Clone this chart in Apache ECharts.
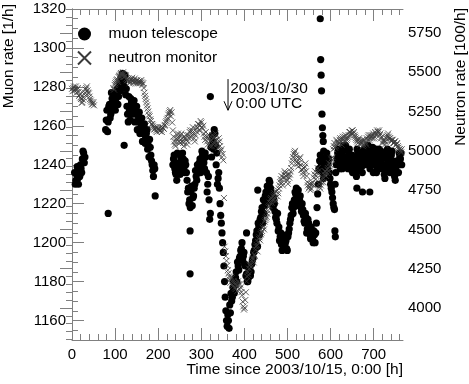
<!DOCTYPE html>
<html>
<head>
<meta charset="utf-8">
<script src="https://cdn.jsdelivr.net/npm/echarts@6/dist/echarts.min.js"></script>
<style>
html, body { margin: 0; padding: 0; background: #fff; }
#chart { width: 469px; height: 384px; }
</style>
</head>
<body>
<div id="chart"></div>
<script>
// rates, one value every 3 h from the start hour;
// the "b" runs sit half way between (start + 1.5 h)
var step = 3;

var muonStart1 = 6;
var muon1 = [1236, 1232, 1239, 1230, 1234, 1238, 1243, 1246, 1244];
var muonStart1b = 7.5;
var muon1b = [1230, 1235, 1233, 1237, 1240, 1236, 1247, 1241];

var muonStart2 = 78;
var muon2 = [1258, 1268, 1262, 1271, 1266, 1274, 1270, 1276, 1272, 1279,
             1275, 1282, 1285, 1287, 1283, 1286, 1279, 1266, 1275, 1263,
             1272, 1268, 1273, 1266, 1270, 1262, 1267, 1259, 1264, 1256,
             1261, 1254, 1258, 1250, 1253, 1245, 1240, 1234, 1238];
var muonStart2b = 79.5;
var muon2b = [1263, 1257, 1270, 1264, 1277, 1268, 1273, 1268, 1277, 1271,
              1280, 1278, 1283, 1285, 1280, 1276, 1270, 1262, 1268, 1274,
              1266, 1270, 1262, 1268, 1258, 1264, 1256, 1261, 1252, 1258,
              1251, 1256, 1248, 1244, 1249, 1242, 1237, 1240];

var muonStart3 = 234;
var muon3 = [1240, 1245, 1236, 1232, 1241, 1238, 1244, 1239, 1243, 1236,
             1240, 1232, 1228, 1222, 1226, 1219, 1224, 1230, 1234, 1240,
             1236, 1243, 1238, 1245, 1241, 1246, 1236, 1230, 1222, 1215,
             1244, 1252, 1258, 1250, 1246, 1233, 1228, 1214, 1205, 1195,
             1180, 1165, 1157, 1160, 1168, 1174, 1172, 1180, 1178, 1185,
             1190, 1186, 1193, 1197, 1191, 1195, 1188, 1184, 1180, 1186,
             1183, 1189, 1192, 1196, 1201, 1206, 1210, 1204, 1213, 1218,
             1222, 1219, 1226, 1229, 1224, 1231, 1226, 1220, 1223, 1216,
             1212, 1215, 1208, 1203, 1199, 1204, 1198, 1200, 1197, 1203,
             1207, 1212, 1218, 1215, 1222, 1225, 1221, 1227, 1222, 1218,
             1220, 1214, 1210, 1213, 1207, 1210, 1204, 1208, 1202, 1206,
             1200, 1210, 1225, 1238, 1245, 1240, 1236, 1242, 1238, 1246,
             1241, 1236, 1230, 1226, 1220, 1217, 1236, 1243, 1248, 1240,
             1245, 1238, 1250, 1244, 1248, 1240, 1246, 1238, 1242, 1236,
             1244, 1240, 1234, 1246, 1240, 1244, 1239, 1245, 1248, 1242,
             1247, 1250, 1244, 1240, 1246, 1236, 1242, 1248, 1238, 1245,
             1240, 1247, 1243, 1238, 1233, 1244, 1248, 1240, 1236, 1245,
             1242, 1238, 1232, 1236, 1240, 1246, 1243, 1240];
var muonStart3b = 235.5;
var muon3b = [1243, 1238, 1235, 1246, 1240, 1235, 1241, 1246, 1238, 1242,
              1236, 1226, 1220, 1218, 1229, 1223, 1228, 1237, 1232, 1238,
              1241, 1236, 1247, 1242, 1238, 1244, 1226, 1234, 1212, 1249,
              1255, 1248, 1256, 1240, 1230, 1236, 1220, 1210, 1200, 1188,
              1172, 1160, 1163, 1156, 1164, 1170, 1177, 1174, 1182, 1180,
              1188, 1192, 1196, 1200, 1193, 1189, 1183, 1180, 1182, 1187,
              1185, 1191, 1195, 1199, 1204, 1198, 1208, 1212, 1216, 1210,
              1215, 1224, 1221, 1227, 1232, 1228, 1223, 1218, 1220, 1213,
              1210, 1206, 1201, 1205, 1196, 1202, 1199, 1201, 1196, 1205,
              1210, 1214, 1220, 1218, 1226, 1228, 1224, 1219, 1224, 1216,
              1217, 1211, 1215, 1205, 1212, 1208, 1202, 1205, 1200, 1204,
              1205, 1218, 1230, 1242, 1237, 1243, 1233, 1240, 1244, 1238,
              1243, 1233, 1228, 1223, 1218, 1230, 1240, 1246, 1243, 1238,
              1242, 1247, 1240, 1250, 1243, 1238, 1248, 1240, 1245, 1239,
              1236, 1242, 1248, 1237, 1242, 1247, 1236, 1243, 1240, 1245,
              1243, 1247, 1238, 1243, 1249, 1240, 1245, 1236, 1243, 1248,
              1242, 1238, 1246, 1235, 1240, 1247, 1242, 1237, 1240, 1247,
              1240, 1234, 1238, 1242, 1236, 1244, 1246];

// single outlying hours and the spike of 2003/10/29
var muonExtra = [[84, 1215], [121, 1250], [193, 1224], [274, 1206], [274, 1184],
                 [321, 1275], [405, 1205], [431, 1227], [576, 1315], [577, 1294],
                 [578, 1286], [579, 1278], [580, 1266], [581, 1259], [582, 1255],
                 [583, 1252], [584, 1247], [610, 1206], [611, 1203], [661, 1228],
                 [674, 1226], [691, 1226]];

var neutronStart1 = 0;
var neutron1 = [5395, 5400, 5385, 5410, 5390, 5375, 5360, 5330, 5310, 5340,
                5370, 5400, 5385, 5365, 5330, 5310, 5300, 5290];
var neutronStart1b = 1.5;
var neutron1b = [5380, 5410, 5395, 5370, 5400, 5350, 5340, 5305, 5325, 5360,
                 5390, 5410, 5370, 5345, 5320, 5295, 5310];

var neutronStart2 = 96;
var neutron2 = [5400, 5420, 5440, 5455, 5470, 5480, 5495, 5490, 5485, 5475,
                5460, 5450, 5445, 5440, 5455, 5445, 5450, 5440, 5445, 5430,
                5445, 5440, 5435, 5430, 5370, 5330, 5290, 5250, 5220, 5190,
                5170, 5150, 5140, 5130, 5150, 5140, 5125, 5135, 5150, 5140,
                5165, 5190, 5210, 5240, 5260, 5245, 5130, 5060, 5030, 5080,
                5110, 5060, 5100, 5080, 5050, 5090, 5070, 5040, 5100, 5120,
                5090, 5130, 5110, 5060, 5140, 5150, 5170, 5160, 5180, 5140,
                5110, 5070, 5090, 5040, 5100, 5060, 5030, 5080, 5050, 5110,
                5040, 5020, 5060, 5000, 4960, 4940, 4390, 4330, 4270, 4220,
                4180, 4200, 4150, 4170, 4130, 4150, 4110, 4150, 4150, 4100,
                4040, 3990, 4050, 4170, 4230, 4250, 4280, 4300, 4310, 4340,
                4370, 4400, 4420, 4450, 4470, 4490, 4520, 4550, 4570, 4600,
                4640, 4670, 4700, 4690, 4720, 4700, 4740, 4710, 4760, 4800,
                4840, 4780, 4850, 4860, 4820, 4790, 4830, 4870, 4920, 4960,
                4990, 4970, 4930, 4900, 4950, 4910, 4880, 4840, 4900, 4870,
                4800, 4760, 4790, 4760, 4800, 4830, 4870, 4840, 4890, 4790,
                4760, 4800, 4830, 4850, 4870, 4860, 4890, 4920, 4910, 4940,
                5010, 5050, 5030, 5060, 5040, 5070, 5060, 5080, 5070, 5090,
                5060, 5080, 5100, 5120, 5110, 5130, 5120, 5090, 5070, 5050,
                5080, 5040, 5060, 5030, 5070, 5050, 5080, 5090, 5070, 5100,
                5080, 5110, 5090, 5110, 5130, 5120, 5100, 5080, 5050, 5070,
                5040, 5080, 5100, 5090, 5080, 5060, 5070, 5050, 5060, 5040,
                5030, 5010, 5000, 5010];
var neutronStart2b = 97.5;
var neutron2b = [5390, 5430, 5450, 5440, 5475, 5490, 5480, 5500, 5470, 5480,
                 5450, 5460, 5430, 5450, 5465, 5435, 5460, 5430, 5450, 5440,
                 5430, 5450, 5420, 5400, 5350, 5310, 5270, 5230, 5200, 5170,
                 5160, 5135, 5150, 5120, 5140, 5130, 5150, 5120, 5145, 5160,
                 5180, 5200, 5230, 5250, 5220, 5180, 5090, 5040, 5060, 5100,
                 5080, 5050, 5110, 5060, 5030, 5080, 5100, 5060, 5080, 5130,
                 5110, 5150, 5080, 5100, 5120, 5170, 5130, 5190, 5150, 5160,
                 5090, 5120, 5060, 5080, 5030, 5070, 5100, 5040, 5090, 5070,
                 5050, 5080, 5030, 5010, 4980, 4700, 4360, 4300, 4240, 4200,
                 4160, 4190, 4140, 4160, 4120, 4140, 4170, 4120, 4130, 4080,
                 4010, 4000, 4100, 4200, 4210, 4270, 4260, 4320, 4290, 4330,
                 4390, 4360, 4440, 4430, 4480, 4510, 4500, 4560, 4580, 4620,
                 4650, 4690, 4670, 4710, 4730, 4680, 4750, 4730, 4780, 4820,
                 4800, 4830, 4870, 4840, 4810, 4850, 4850, 4890, 4940, 4980,
                 5000, 4950, 4920, 4920, 4960, 4880, 4860, 4890, 4920, 4840,
                 4780, 4770, 4750, 4790, 4780, 4850, 4820, 4860, 4870, 4770,
                 4780, 4820, 4800, 4870, 4840, 4880, 4870, 4900, 4950, 4960,
                 5030, 5020, 5070, 5050, 5050, 5080, 5040, 5090, 5060, 5100,
                 5070, 5090, 5120, 5100, 5130, 5110, 5100, 5080, 5060, 5070,
                 5060, 5050, 5070, 5040, 5060, 5040, 5070, 5100, 5080, 5090,
                 5100, 5080, 5120, 5100, 5120, 5130, 5110, 5090, 5060, 5060,
                 5060, 5090, 5110, 5080, 5070, 5070, 5050, 5060, 5040, 5050,
                 5020, 5010, 4990];

var timeTicks = [0, 100, 200, 300, 400, 500, 600, 700];
var muonTicks = [1160, 1180, 1200, 1220, 1240, 1260, 1280, 1300, 1320];
var neutronTicks = [4000, 4250, 4500, 4750, 5000, 5250, 5500, 5750];

var arrowHour = 362;

function toPairs(start, vals) {
  return vals.map(function (v, i) { return [start + step * i, v]; });
}
function minorTicks(from, to, by, major) {
  var out = [];
  for (var v = from; v <= to; v += by) {
    if (major.indexOf(v) < 0) out.push(v);
  }
  return out;
}

var muonData = toPairs(muonStart1, muon1)
  .concat(toPairs(muonStart1b, muon1b))
  .concat(toPairs(muonStart2, muon2))
  .concat(toPairs(muonStart2b, muon2b))
  .concat(toPairs(muonStart3, muon3))
  .concat(toPairs(muonStart3b, muon3b))
  .concat(muonExtra);
var neutronData = toPairs(neutronStart1, neutron1)
  .concat(toPairs(neutronStart1b, neutron1b))
  .concat(toPairs(neutronStart2, neutron2))
  .concat(toPairs(neutronStart2b, neutron2b));

var font = 'Liberation Sans, Arial, sans-serif';
var frame = '#808080';
var plain = function (v) { return String(v); };

function ticks(len, values) {
  return { show: true, inside: true, length: len, customValues: values, lineStyle: { color: frame, width: 1 } };
}
function labels(values, margin) {
  return { show: true, customValues: values, formatter: plain, color: '#000', fontSize: 15, fontFamily: font, margin: margin };
}
function axis(grid, pos, lim, line, tick, label) {
  return {
    type: 'value', gridIndex: grid, position: pos, min: lim[0], max: lim[1],
    splitLine: { show: false },
    axisLine: { show: line, lineStyle: { color: frame, width: 1 } },
    axisTick: tick,
    axisLabel: label || { show: false }
  };
}

var tLim = [0, 768];
var mLim = [1150, 1320];
var nLim = [3796, 5903];
var tMinor = minorTicks(0, 760, 20, timeTicks);

var chart = echarts.init(document.getElementById('chart'), null, { renderer: 'canvas' });
chart.setOption({
  animation: false,
  backgroundColor: '#fff',
  grid: [
    { left: 72, right: 66, top: 9, bottom: 44 },
    { left: 72, right: 66, top: 9, bottom: 44 }
  ],
  xAxis: [
    axis(0, 'bottom', tLim, true, ticks(12, timeTicks), labels(timeTicks, 7)),
    axis(0, 'top', tLim, true, ticks(12, timeTicks)),
    axis(1, 'bottom', tLim, false, ticks(6, tMinor)),
    axis(1, 'top', tLim, false, ticks(6, tMinor))
  ],
  yAxis: [
    axis(0, 'left', mLim, true, ticks(12, muonTicks), labels(muonTicks, 6)),
    axis(0, 'right', nLim, true, ticks(12, neutronTicks), labels(neutronTicks, 5)),
    axis(1, 'left', mLim, false, ticks(6, minorTicks(1150, 1320, 5, muonTicks))),
    axis(1, 'right', nLim, false, ticks(6, minorTicks(3800, 5900, 50, neutronTicks)))
  ],
  legend: {
    orient: 'vertical',
    left: 75.5, top: 26, padding: 0,
    itemWidth: 38, itemHeight: 13,
    itemGap: 7,
    symbolKeepAspect: true,
    textStyle: { fontSize: 15.5, color: '#000', fontFamily: font },
    data: ['muon telescope', 'neutron monitor']
  },
  series: [
    {
      name: 'muon telescope',
      type: 'scatter',
      xAxisIndex: 0, yAxisIndex: 0,
      symbol: 'circle',
      symbolSize: 7.2,
      itemStyle: { color: '#000', opacity: 1 },
      data: muonData
    },
    {
      name: 'neutron monitor',
      type: 'scatter',
      xAxisIndex: 0, yAxisIndex: 1,
      symbol: 'path://M0 0L10 10M10 0L0 10',
      symbolKeepAspect: true,
      symbolSize: 6,
      itemStyle: { color: 'none', borderColor: '#3a3a3a', borderWidth: 0.8, opacity: 1 },
      data: neutronData
    }
  ]
});

var aTop = chart.convertToPixel({ xAxisIndex: 0, yAxisIndex: 0 }, [arrowHour, 1284]);
var aBot = chart.convertToPixel({ xAxisIndex: 0, yAxisIndex: 0 }, [arrowHour, 1268]);
var titleFont = '15.5px ' + font;

chart.setOption({
  graphic: [
    { type: 'line', shape: { x1: aTop[0], y1: aTop[1], x2: aBot[0], y2: aBot[1] },
      style: { stroke: '#000', lineWidth: 1 } },
    { type: 'polyline', shape: { points: [[aBot[0] - 4, aBot[1] - 9], [aBot[0], aBot[1]], [aBot[0] + 4, aBot[1] - 9]] },
      style: { stroke: '#000', lineWidth: 1, fill: null } },
    { type: 'text', x: aTop[0] + 41, y: aTop[1] + 10,
      style: { text: '2003/10/30', font: titleFont, fill: '#000', textAlign: 'center', textVerticalAlign: 'middle' } },
    { type: 'text', x: aTop[0] + 41, y: aTop[1] + 25,
      style: { text: '0:00 UTC', font: titleFont, fill: '#000', textAlign: 'center', textVerticalAlign: 'middle' } },
    { type: 'text', x: 9, y: 4, rotation: Math.PI / 2,
      style: { text: 'Muon rate [1/h]', font: titleFont, fill: '#000', textAlign: 'right', textVerticalAlign: 'middle' } },
    { type: 'text', x: 461, y: 8, rotation: Math.PI / 2,
      style: { text: 'Neutron rate [100/h]', font: titleFont, fill: '#000', textAlign: 'right', textVerticalAlign: 'middle' } },
    { type: 'text', x: 403, y: 370,
      style: { text: 'Time since 2003/10/15, 0:00 [h]', font: titleFont, fill: '#000', textAlign: 'right', textVerticalAlign: 'middle' } }
  ]
});
</script>
</body>
</html>
